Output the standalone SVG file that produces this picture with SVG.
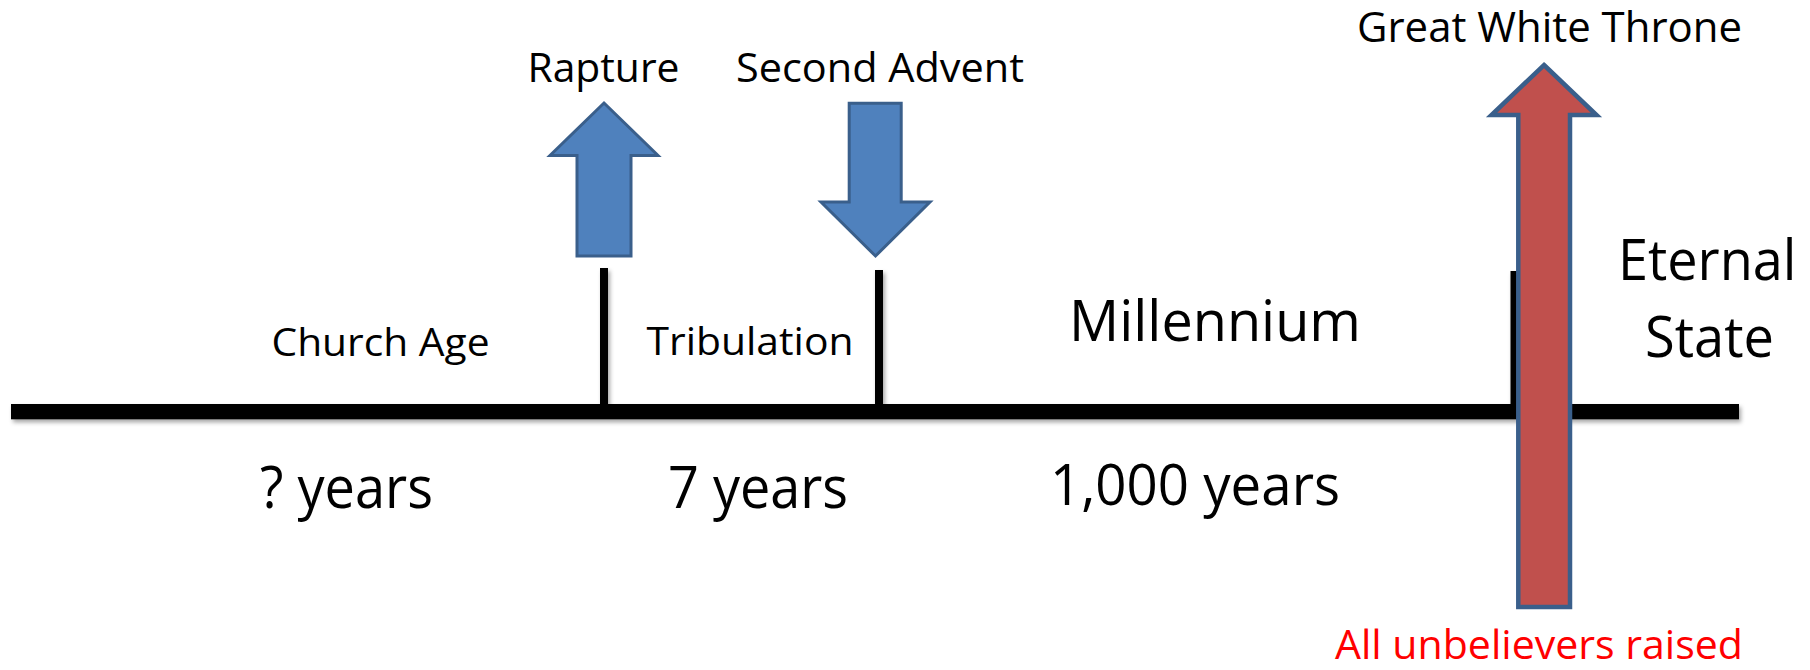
<svg xmlns="http://www.w3.org/2000/svg" width="1810" height="670" viewBox="0 0 1810 670">
<defs>
<filter id="shadow" x="-5%" y="-50%" width="110%" height="200%">
<feDropShadow dx="2" dy="3" stdDeviation="2" flood-color="#000" flood-opacity="0.35"/>
</filter>
</defs>
<style>
text{font-family:"Open Sans","Liberation Sans",sans-serif;fill:#000}
.blue{fill:#4f81bd;stroke:#3a5f8b;stroke-width:3;stroke-linejoin:miter}
.red{fill:#c0504d;stroke:#3a5f8b;stroke-width:4.5;stroke-linejoin:miter}
.bar{fill:#000}
</style>
<rect width="1810" height="670" fill="#fff"/>
<g id="connectors" filter="url(#shadow)">
<rect class="bar" x="11" y="404" width="1728" height="15.3"/>
<rect class="bar" x="600" y="268" width="8" height="137"/>
<rect class="bar" x="875" y="270" width="8" height="135"/>
<rect class="bar" x="1510.5" y="271" width="8" height="134"/>
</g>
<g id="church-age">
<text x="271.5" y="356" font-size="38" textLength="218" lengthAdjust="spacingAndGlyphs">Church Age</text>
<text x="260" y="508" font-size="58" textLength="173" lengthAdjust="spacingAndGlyphs">? years</text>
</g>
<g id="tribulation">
<text x="646.5" y="355" font-size="39" textLength="207" lengthAdjust="spacingAndGlyphs">Tribulation</text>
<text x="668" y="508" font-size="58" textLength="180" lengthAdjust="spacingAndGlyphs">7 years</text>
</g>
<g id="millennium">
<text x="1069" y="340.5" font-size="57" textLength="292" lengthAdjust="spacingAndGlyphs">Millennium</text>
<text x="1050" y="505" font-size="57" textLength="290" lengthAdjust="spacingAndGlyphs">1,000 years</text>
</g>
<g id="eternal-state">
<text x="1618" y="280" font-size="57" textLength="178.5" lengthAdjust="spacingAndGlyphs">Eternal</text>
<text x="1645" y="356.5" font-size="57" textLength="129" lengthAdjust="spacingAndGlyphs">State</text>
</g>
<g id="rapture">
<polygon class="blue" points="604,103 658,155.5 631,155.5 631,256 577,256 577,155.5 550,155.5"/>
<text x="527.5" y="81.5" font-size="40.5" textLength="152" lengthAdjust="spacingAndGlyphs">Rapture</text>
</g>
<g id="second-advent">
<polygon class="blue" points="849.2,103.2 901.2,103.2 901.2,202 930,202 875.5,256 821,202 849.2,202"/>
<text x="736" y="81.5" font-size="40.5" textLength="288" lengthAdjust="spacingAndGlyphs">Second Advent</text>
</g>
<g id="great-white-throne">
<polygon class="red" points="1544,65 1596.5,115 1570,115 1570,607 1518.3,607 1518.3,115 1491.5,115"/>
<text x="1357" y="42.3" font-size="42.5" textLength="385" lengthAdjust="spacingAndGlyphs">Great White Throne</text>
<text x="1335" y="659" font-size="40" textLength="408" lengthAdjust="spacingAndGlyphs" style="fill:#ff0000">All unbelievers raised</text>
</g>
</svg>
